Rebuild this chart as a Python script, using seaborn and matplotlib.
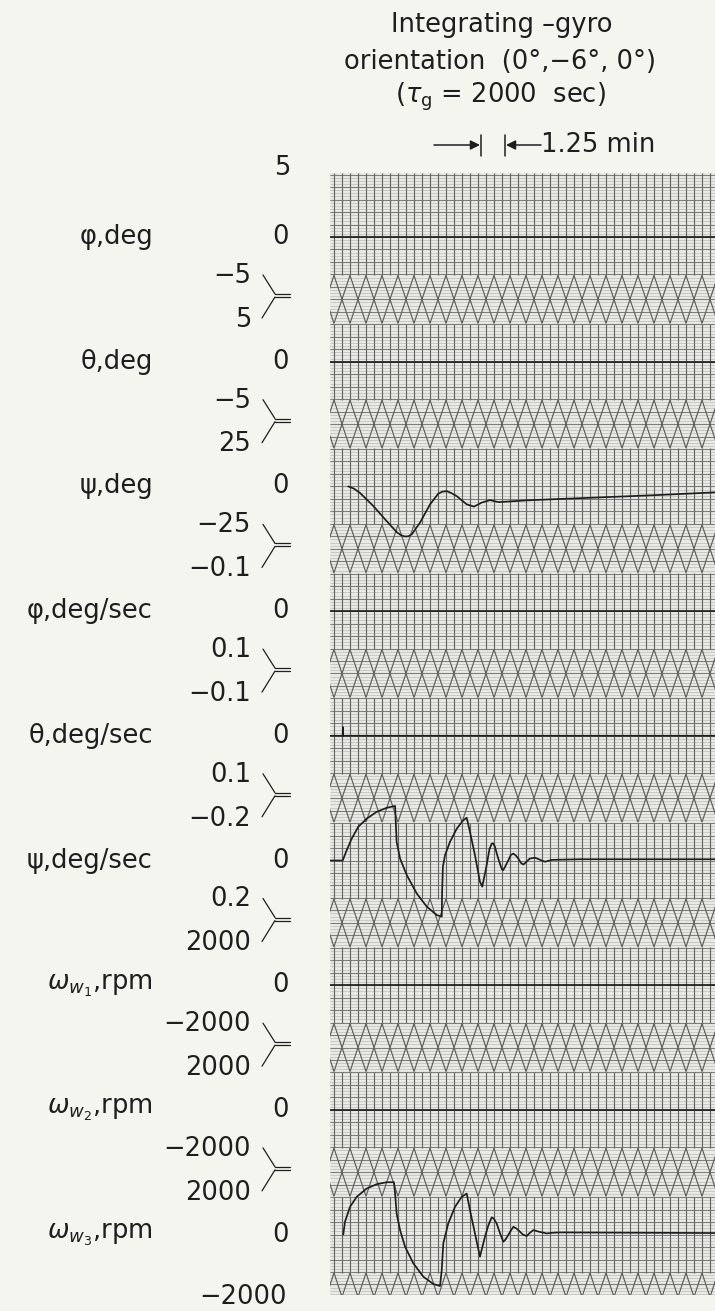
import numpy as np
import pandas as pd
import matplotlib
matplotlib.use("Agg")
import matplotlib.pyplot as plt
import seaborn as sns
from matplotlib.collections import LineCollection

# ------------------------------------------------------------------ data
channel_names = ["φ,deg", "θ,deg", "ψ,deg", "φ,deg/sec", "θ,deg/sec", "ψ,deg/sec",
                 r"$\omega_{w_1}$,rpm", r"$\omega_{w_2}$,rpm", r"$\omega_{w_3}$,rpm"]
top_labels = ["5", "5", "25", "−0.1", "−0.1", "−0.2", "2000", "2000", "2000"]
bottom_labels = ["−5", "−5", "−25", "0.1", "0.1", "0.2", "−2000", "−2000", "−2000"]
full_scale = [5, 5, 25, 0.1, 0.1, 0.2, 2000, 2000, 2000]
inverted = [False, False, False, True, True, True, False, False, False]

record_end = 20.05  # minutes shown on the strip

phi_t = [0, record_end]
phi_v = [0, 0]
theta_t = [0, record_end]
theta_v = [0, 0]
psi_t = [0.95, 1.25, 1.56, 2.26, 2.95, 3.47, 3.70, 3.91, 4.08, 4.26, 4.69, 5.21, 5.64,
         5.85, 6.08, 6.30, 6.60, 7.12, 7.50, 7.90, 8.33, 8.77, 9.20, 10.24, 11.46,
         14.06, 16.67, 20.05]
psi_v = [0, -0.9, -2.6, -7.9, -13.9, -18.3, -19.6, -20.1, -20.0, -19.2, -14.5, -7.2,
         -2.9, -2.1, -1.9, -2.6, -3.9, -7.2, -8.1, -6.5, -5.5, -6.3, -6.1, -5.6, -5.2,
         -4.4, -3.6, -2.4]
phidot_t = [0, record_end]
phidot_v = [0, 0]
thetadot_t = [0, 0.66, 0.67, 0.68, record_end]
thetadot_v = [0, 0, -0.014, 0, 0]
psidot_t = [0, 0.66, 0.87, 1.13, 1.47, 1.91, 2.43, 2.95, 3.39, 3.42, 3.47, 3.65, 4.00,
            4.52, 5.04, 5.56, 5.82, 5.84, 5.88, 5.99, 6.25, 6.60, 6.94, 7.12, 7.29,
            7.55, 7.81, 7.93, 8.16, 8.30, 8.42, 8.50, 8.59, 8.72, 8.85, 8.95, 9.02,
            9.12, 9.29, 9.42, 9.55, 9.68, 9.81, 9.95, 10.07, 10.20, 10.40, 10.68,
            10.95, 11.20, 11.55, 13.02, 20.05]
psidot_v = [0, 0, -0.033, -0.070, -0.108, -0.134, -0.156, -0.169, -0.175, -0.13, -0.06,
            -0.006, 0.047, 0.106, 0.148, 0.175, 0.180, 0.10, 0.02, -0.017, -0.060,
            -0.102, -0.129, -0.137, -0.092, -0.017, 0.068, 0.084, 0.015, -0.035,
            -0.054, -0.055, -0.044, -0.015, 0.010, 0.028, 0.031, 0.020, -0.001,
            -0.018, -0.022, -0.016, -0.006, 0.008, 0.013, 0.006, -0.006, -0.009,
            -0.002, 0.004, -0.002, -0.004, -0.004]
w1_t = [0, record_end]
w1_v = [0, 0]
w2_t = [0, record_end]
w2_v = [0, 0]
w3_t = [0.69, 0.78, 1.04, 1.39, 1.91, 2.43, 2.95, 3.33, 3.39, 3.47, 3.65, 3.91, 4.34,
        4.86, 5.38, 5.73, 5.82, 5.90, 6.16, 6.51, 6.86, 7.12, 7.29, 7.55, 7.81, 8.07,
        8.25, 8.42, 8.52, 8.68, 8.85, 9.03, 9.15, 9.38, 9.55, 9.70, 9.90, 10.05,
        10.24, 10.40, 10.59, 10.90, 11.29, 11.60, 11.98, 20.05]
w3_v = [0, 410, 890, 1210, 1478, 1616, 1680, 1680, 1318, 678, 144, -390, -922, -1350,
        -1584, -1648, -1136, -282, 358, 890, 1210, 1318, 784, 38, -710, -70,
        300, 550, 520, 358, 50, -230, -150, 90, 250, 200, 90, 0,
        -48, 50, 144, 90, 38, 60, 70, 50]

traces = [(phi_t, phi_v), (theta_t, theta_v), (psi_t, psi_v),
          (phidot_t, phidot_v), (thetadot_t, thetadot_v), (psidot_t, psidot_v),
          (w1_t, w1_v), (w2_t, w2_v), (w3_t, w3_v)]

# ------------------------------------------------------------------ style
sns.set_theme(style="white")
plt.rcParams["font.family"] = ["DejaVu Sans"]
plt.rcParams["mathtext.fontset"] = "dejavusans"

W, H = 715, 1311
PX_PER_MIN = 19.2
X0, X1 = 330, 715
Y_TOP, Y_BOT = 173, 1295
CH0, CH_STEP = 237.0, 124.7
HALF = CH_STEP / 2
centers = [CH0 + CH_STEP * i for i in range(9)]
INK = "#1e1e1e"

fig = plt.figure(figsize=(W / 100, H / 100), dpi=100, facecolor="#f5f5f0")


def rect(x0, y0, x1, y1):
    return [x0 / W, 1 - y1 / H, (x1 - x0) / W, (y1 - y0) / H]


def to_min(px):
    return (np.asarray(px, dtype=float) - X0) / PX_PER_MIN


def bare(ax):
    ax.set_xticks([])
    ax.set_yticks([])
    for s in ax.spines.values():
        s.set_visible(False)


# overlay for lettering
ax_o = fig.add_axes([0, 0, 1, 1])
ax_o.set_xlim(0, W)
ax_o.set_ylim(H, 0)
ax_o.axis("off")

# ------------------------------------------------------------------ chart paper
ax_p = fig.add_axes(rect(X0, Y_TOP, X1, Y_BOT))
bare(ax_p)
ax_p.set_facecolor("#e9e9e5")
xmax = (X1 - X0) / PX_PER_MIN
ax_p.set_xlim(0, xmax)
ax_p.set_ylim(Y_BOT, Y_TOP)

fine = CH0 + np.arange(-40, 400) * CH_STEP / 40
fine = fine[(fine >= Y_TOP) & (fine <= Y_BOT)]
ax_p.hlines(fine, 0, xmax, color="#c3c3bf", lw=0.6)
med = CH0 + np.arange(-10, 100) * CH_STEP / 10
med = med[(med >= Y_TOP) & (med <= Y_BOT)]
ax_p.hlines(med, 0, xmax, color="#7e7e7a", lw=0.8)

vx = to_min(334 + 8 * np.arange(48))
for i, c in enumerate(centers):
    ya = Y_TOP if i == 0 else c - 38
    ax_p.vlines(vx, ya, c + 38, color="#666663", lw=0.85)

segs = []
for c in centers:
    b = c + HALF
    for k in range(-1, 26):
        X = 334 + 16 * k
        segs.append([(to_min(X), b - 24), (to_min(X + 16), b + 24)])
        segs.append([(to_min(X), b + 24), (to_min(X + 16), b - 24)])
ax_p.add_collection(LineCollection(segs, colors="#5e5e5b", linewidths=0.85))

# ------------------------------------------------------------------ traces
for i, (c, (tt, vv)) in enumerate(zip(centers, traces)):
    ax = fig.add_axes(rect(X0, c - HALF, X1, c + HALF), sharex=ax_p)
    ax.set_facecolor("none")
    bare(ax)
    fs = full_scale[i]
    if inverted[i]:
        ax.set_ylim(fs, -fs)
    else:
        ax.set_ylim(-fs, fs)
    df = pd.DataFrame({"t": tt, "v": vv})
    sns.lineplot(data=df, x="t", y="v", ax=ax, estimator=None, sort=False,
                 color=INK, lw=1.25)
    ax.set_xlabel("")
    ax.set_ylabel("")
    ax.set_xticks([])
    ax.set_yticks([])
ax_p.set_xlim(0, xmax)

# ------------------------------------------------------------------ lettering
FS = 18.5
for i, c in enumerate(centers):
    ax_o.text(153, c, channel_names[i], ha="right", va="center", fontsize=FS, color=INK)
    ax_o.text(289, c, "0", ha="right", va="center", fontsize=FS, color=INK)
    if i == 0:
        ax_o.text(290, 168, top_labels[i], ha="right", va="center", fontsize=FS, color=INK)
    else:
        ax_o.text(251, c - 42, top_labels[i], ha="right", va="center", fontsize=FS, color=INK)
    if i == 8:
        ax_o.text(287, 1297, bottom_labels[i], ha="right", va="center", fontsize=FS, color=INK)
    else:
        ax_o.text(251, c + 39, bottom_labels[i], ha="right", va="center", fontsize=FS, color=INK)
        ax_o.plot([263, 275], [c + 38, c + 57], color=INK, lw=0.9)
        ax_o.plot([275, 262], [c + 60, c + 81], color=INK, lw=0.9)
        ax_o.plot([275, 290], [c + 57, c + 57], color=INK, lw=0.9)
        ax_o.plot([275, 290], [c + 60, c + 60], color=INK, lw=0.9)

ax_o.text(502, 25, "Integrating –gyro", ha="center", va="center", fontsize=FS, color=INK)
ax_o.text(500, 62, "orientation  (0°,−6°, 0°)", ha="center", va="center", fontsize=FS, color=INK)
ax_o.text(500, 97, r"($\tau_{\rm g}$ = 2000  sec)", ha="center", va="center", fontsize=FS, color=INK)

ax_o.plot([481, 481], [135, 156], color=INK, lw=1.1)
ax_o.plot([505, 505], [135, 156], color=INK, lw=1.1)
ax_o.annotate("", xy=(480, 145), xytext=(434, 145),
              arrowprops=dict(arrowstyle="-|>", color=INK, lw=1.1, mutation_scale=14,
                              shrinkA=0, shrinkB=0))
ax_o.annotate("", xy=(506, 145), xytext=(541, 145),
              arrowprops=dict(arrowstyle="-|>", color=INK, lw=1.1, mutation_scale=14,
                              shrinkA=0, shrinkB=0))
ax_o.text(541, 145, "1.25 min", ha="left", va="center", fontsize=FS, color=INK)

fig.savefig("out.png", dpi=100, facecolor=fig.get_facecolor())
